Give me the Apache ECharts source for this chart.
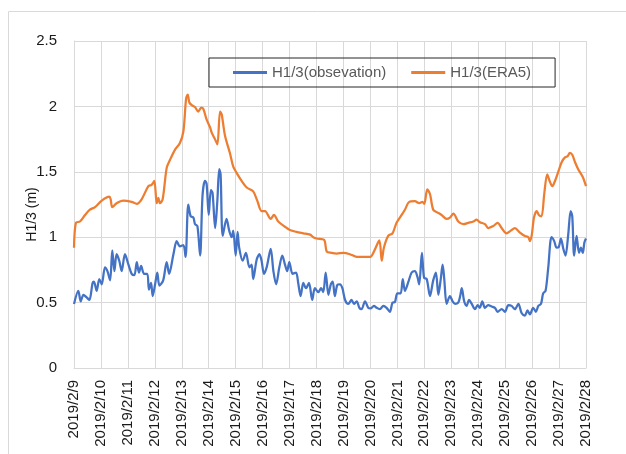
<!DOCTYPE html>
<html>
<head>
<meta charset="utf-8">
<script src="https://cdn.jsdelivr.net/npm/echarts@6/dist/echarts.min.js"></script>
<style>
  html, body { margin: 0; padding: 0; background: #fff; }
  #main { width: 626px; height: 454px; }
</style>
</head>
<body>
<div id="main"></div>
<script>
// tick labels, one per day (x value = days after 2019/2/9)
const dayLabels = [
  "2019/2/9", "2019/2/10", "2019/2/11", "2019/2/12", "2019/2/13",
  "2019/2/14", "2019/2/15", "2019/2/16", "2019/2/17", "2019/2/18",
  "2019/2/19", "2019/2/20", "2019/2/21", "2019/2/22", "2019/2/23",
  "2019/2/24", "2019/2/25", "2019/2/26", "2019/2/27", "2019/2/28"
];

// H1/3 observation
const obsX = [
  0, 0.16, 0.25, 0.35, 0.47, 0.57, 0.69, 0.74, 0.84, 0.94,
  1.03, 1.15, 1.24, 1.34, 1.42, 1.5, 1.58, 1.68, 1.77, 1.89,
  2.02, 2.14, 2.24, 2.33, 2.41, 2.49, 2.6, 2.72, 2.78, 2.86,
  2.92, 3.01, 3.09, 3.17, 3.31, 3.44, 3.53, 3.69, 3.81, 3.93,
  4.06, 4.14, 4.24, 4.33, 4.43, 4.49, 4.58, 4.68, 4.77, 4.86,
  4.92, 5.0, 5.08, 5.14, 5.24, 5.32, 5.39, 5.44, 5.52, 5.66,
  5.76, 5.85, 5.91, 6.0, 6.07, 6.13, 6.26, 6.38, 6.51, 6.59,
  6.65, 6.78, 6.88, 6.96, 7.05, 7.15, 7.3, 7.4, 7.5, 7.62,
  7.73, 7.83, 7.91, 7.99, 8.11, 8.24, 8.32, 8.41, 8.51, 8.61,
  8.72, 8.84, 8.94, 9.07, 9.17, 9.25, 9.34, 9.44, 9.53, 9.6,
  9.68, 9.77, 9.87, 9.96, 10.06, 10.18, 10.3, 10.39, 10.49, 10.59,
  10.67, 10.8, 10.92, 11.0, 11.13, 11.23, 11.35, 11.48, 11.6, 11.72,
  11.82, 11.91, 12.0, 12.12, 12.2, 12.28, 12.41, 12.53, 12.65, 12.74,
  12.81, 12.91, 12.99, 13.09, 13.21, 13.33, 13.43, 13.52, 13.61, 13.68,
  13.74, 13.83, 13.95, 14.05, 14.14, 14.26, 14.33, 14.39, 14.48, 14.57,
  14.66, 14.76, 14.88, 14.98, 15.06, 15.15, 15.25, 15.37, 15.5, 15.62,
  15.72, 15.87, 15.99, 16.12, 16.24, 16.36, 16.49, 16.61, 16.73, 16.83,
  16.92, 17.04, 17.14, 17.23, 17.33, 17.41, 17.5, 17.6, 17.72, 17.82,
  17.91, 17.99, 18.07, 18.16, 18.24, 18.34, 18.43, 18.49, 18.56, 18.65,
  18.74, 18.81, 18.88, 18.94, 19.0
];
const obsY = [
  0.49, 0.59, 0.51, 0.56, 0.54, 0.52, 0.65, 0.66, 0.59, 0.68,
  0.64, 0.77, 0.74, 0.67, 0.9, 0.74, 0.87, 0.82, 0.74, 0.87,
  0.79, 0.72, 0.71, 0.81, 0.73, 0.78, 0.72, 0.72, 0.6, 0.65,
  0.55, 0.64, 0.73, 0.63, 0.67, 0.81, 0.72, 0.87, 0.97, 0.93,
  0.94, 0.85, 1.25, 1.16, 1.15, 1.1, 1.085, 0.86, 1.32, 1.43,
  1.41, 1.17, 1.36, 1.34, 1.07, 1.28, 1.52, 1.48, 1.01, 1.14,
  1.05, 1.0, 1.05, 0.86, 1.04, 0.92, 0.82, 0.88, 0.77, 0.79,
  0.68, 0.83, 0.87, 0.82, 0.72, 0.77, 0.91, 0.74, 0.64, 0.77,
  0.86, 0.79, 0.74, 0.81, 0.72, 0.73, 0.65, 0.55, 0.65, 0.61,
  0.65, 0.52, 0.61, 0.58, 0.61, 0.58, 0.73, 0.56, 0.64, 0.66,
  0.55, 0.635, 0.64, 0.61, 0.52, 0.49, 0.52, 0.49, 0.51, 0.46,
  0.45, 0.51, 0.46, 0.455, 0.475, 0.46, 0.45, 0.475, 0.46, 0.43,
  0.5, 0.505, 0.57, 0.57, 0.68, 0.59, 0.66, 0.73, 0.74, 0.7,
  0.64, 0.88, 0.69, 0.68, 0.55, 0.67, 0.73, 0.56, 0.68, 0.79,
  0.68, 0.49, 0.55, 0.51, 0.49, 0.5, 0.55, 0.61, 0.51, 0.475,
  0.52, 0.49, 0.45, 0.48, 0.46, 0.51, 0.46, 0.48, 0.47, 0.46,
  0.43, 0.45, 0.43, 0.48, 0.475, 0.45, 0.49, 0.42, 0.4, 0.44,
  0.41, 0.46, 0.43, 0.475, 0.49, 0.57, 0.59, 0.77, 1.0, 0.97,
  0.92, 0.925, 0.99, 0.91, 0.86, 1.02, 1.2, 1.16, 0.86, 1.01,
  0.88, 0.92, 0.88, 0.96, 0.99
];

// H1/3 ERA5
const eraX = [
  0, 0.07, 0.22, 0.41, 0.59, 0.78, 1.03, 1.31, 1.36, 1.42,
  1.58, 1.83, 2.14, 2.33, 2.51, 2.76, 2.88, 2.98, 3.07, 3.13,
  3.19, 3.29, 3.44, 3.56, 3.75, 3.93, 4.06, 4.16, 4.22, 4.28,
  4.37, 4.49, 4.61, 4.72, 4.8, 4.92, 5.05, 5.11, 5.23, 5.32,
  5.42, 5.48, 5.6, 5.79, 5.91, 6.04, 6.22, 6.41, 6.65, 6.8,
  6.96, 7.09, 7.3, 7.42, 7.58, 7.83, 8.01, 8.26, 8.51, 8.76,
  8.88, 9.0, 9.28, 9.38, 9.56, 9.75, 10.0, 10.24, 10.49, 10.74,
  10.99, 11.13, 11.33, 11.42, 11.5, 11.66, 11.82, 11.97, 12.16, 12.28,
  12.44, 12.65, 12.81, 12.93, 13.0, 13.11, 13.21, 13.33, 13.48, 13.64,
  13.83, 13.95, 14.08, 14.26, 14.45, 14.63, 14.82, 14.94, 15.06, 15.25,
  15.37, 15.56, 15.72, 15.87, 16.05, 16.21, 16.36, 16.55, 16.73, 16.86,
  16.92, 16.99, 17.07, 17.17, 17.25, 17.35, 17.45, 17.56, 17.65, 17.75,
  17.85, 17.97, 18.1, 18.22, 18.32, 18.4, 18.49, 18.59, 18.71, 18.88,
  19.0
];
const eraY = [
  0.92, 1.11, 1.12, 1.17, 1.21, 1.23, 1.28, 1.31, 1.29, 1.23,
  1.26, 1.28, 1.27, 1.255, 1.29, 1.39, 1.4, 1.43, 1.26, 1.3,
  1.26, 1.29, 1.53, 1.59, 1.67, 1.72, 1.81, 2.06, 2.09, 2.03,
  2.01, 1.995, 1.96, 1.99, 1.98, 1.9, 1.84, 1.8, 1.75, 1.71,
  1.96, 1.94, 1.78, 1.64, 1.54, 1.49, 1.43, 1.38, 1.35, 1.28,
  1.2, 1.2, 1.14, 1.17, 1.12, 1.08, 1.055, 1.04, 1.03, 1.02,
  1.0, 0.99, 0.98, 0.89, 0.88, 0.875, 0.88, 0.87, 0.85, 0.85,
  0.85, 0.89, 0.975, 0.82, 0.92, 1.01, 1.03, 1.11, 1.17, 1.21,
  1.27, 1.275, 1.26, 1.27, 1.255, 1.365, 1.33, 1.21, 1.19, 1.17,
  1.14, 1.15, 1.18, 1.12, 1.1, 1.11, 1.12, 1.135, 1.115, 1.1,
  1.07, 1.085, 1.11, 1.07, 1.03, 1.05, 1.07, 1.035, 1.01, 1.0,
  0.97, 1.02, 1.15, 1.2, 1.17, 1.16, 1.33, 1.48, 1.43, 1.39,
  1.43, 1.5, 1.575, 1.61, 1.62, 1.645, 1.63, 1.575, 1.52, 1.46,
  1.39
];

const yTicks = [0, 0.5, 1, 1.5, 2, 2.5];

const pair = (xs, ys) => xs.map((x, i) => [x, ys[i]]);

const myChart = echarts.init(document.getElementById("main"));
myChart.setOption({
  animation: false,
  textStyle: { fontFamily: "Liberation Sans" },
  graphic: [
    {
      type: "rect",
      shape: { x: 8.5, y: 11.5, width: 700, height: 500 },
      style: { fill: "none", stroke: "#d9d9d9", lineWidth: 1 },
      z: -1
    }
  ],
  grid: { left: 74, right: 40, top: 41, bottom: 86 },
  legend: {
    left: 209,
    top: 58,
    padding: [7, 24, 7, 24],
    itemGap: 25,
    itemWidth: 34,
    itemHeight: 3,
    icon: "rect",
    borderColor: "#262626",
    borderWidth: 1,
    textStyle: { color: "#595959", fontSize: 15, fontFamily: "Liberation Sans" },
    data: ["H1/3(obsevation)", "H1/3(ERA5)"]
  },
  xAxis: {
    type: "value",
    min: 0,
    max: dayLabels.length - 1,
    interval: 1,
    axisLine: { show: true, lineStyle: { color: "#d9d9d9", width: 1 } },
    axisTick: { show: false },
    splitLine: { show: true, lineStyle: { color: "#d9d9d9", width: 1 } },
    axisLabel: {
      rotate: 90,
      margin: 12,
      color: "#1a1a1a",
      fontSize: 15,
      fontFamily: "Liberation Sans",
      formatter: v => dayLabels[Math.round(v)]
    }
  },
  yAxis: {
    type: "value",
    min: yTicks[0],
    max: yTicks[yTicks.length - 1],
    interval: 0.5,
    name: "H1/3 (m)",
    nameLocation: "middle",
    nameGap: 35,
    nameMoveOverlap: false,
    nameTextStyle: {
      color: "#1a1a1a",
      fontSize: 14,
      fontFamily: "Liberation Sans",
      padding: [0, 20, 0, 0]
    },
    axisLine: { show: true, lineStyle: { color: "#d9d9d9", width: 1 } },
    axisTick: { show: false },
    splitLine: { show: true, lineStyle: { color: "#d9d9d9", width: 1 } },
    axisLabel: {
      margin: 17,
      color: "#1a1a1a",
      fontSize: 15,
      fontFamily: "Liberation Sans"
    }
  },
  series: [
    {
      name: "H1/3(obsevation)",
      type: "line",
      data: pair(obsX, obsY),
      symbol: "none",
      smooth: 0.3,
      lineStyle: { color: "#4472c4", width: 2.25 },
      itemStyle: { color: "#4472c4" },
      z: 3
    },
    {
      name: "H1/3(ERA5)",
      type: "line",
      data: pair(eraX, eraY),
      symbol: "none",
      smooth: 0.3,
      lineStyle: { color: "#ed7d31", width: 2.25 },
      itemStyle: { color: "#ed7d31" },
      z: 2
    }
  ]
});
</script>
</body>
</html>
